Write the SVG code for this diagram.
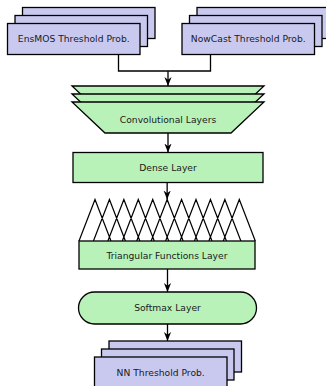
<svg xmlns="http://www.w3.org/2000/svg" width="326" height="386" viewBox="0 0 326 386">
<defs>
<style>
.p{fill:#c9c9f0;stroke:#000;stroke-width:1.3}
.g{fill:#b9f2b9;stroke:#000;stroke-width:1.3}
.t{font-family:"DejaVu Sans","Liberation Sans",sans-serif;font-size:9.2px;fill:#1a1a1a;text-anchor:middle}
.c{fill:none;stroke:#000;stroke-width:1.3}
.tri{fill:none;stroke:#000;stroke-width:1.2;stroke-linejoin:miter}
</style>
<marker id="ah" viewBox="0 0 10 10" refX="10" refY="5" markerWidth="9" markerHeight="9" orient="auto" markerUnits="userSpaceOnUse">
<path d="M0,1 L10,5 L0,9 L3,5 Z" fill="#000"/>
</marker>
</defs>
<rect width="326" height="386" fill="#fff"/>
<g id="ensmos">
<rect class="p" x="22.5" y="7.5" width="132.5" height="31"/>
<rect class="p" x="15" y="15.5" width="132.5" height="31"/>
<rect class="p" x="7.5" y="23.5" width="132.5" height="31"/>
<text class="t" x="73.8" y="42">EnsMOS Threshold Prob.</text>
</g>
<g id="nowcast">
<rect class="p" x="197" y="7.5" width="132.5" height="31"/>
<rect class="p" x="189.5" y="15.5" width="132.5" height="31"/>
<rect class="p" x="182" y="23.5" width="132.5" height="31"/>
<text class="t" x="248.3" y="42">NowCast Threshold Prob.</text>
</g>
<g id="conv">
<path class="g" d="M72,86 L264,86 L231,117 L105,117 Z"/>
<path class="g" d="M72,94 L264,94 L231,125 L105,125 Z"/>
<path class="g" d="M72,102 L264,102 L231,133 L105,133 Z"/>
<text class="t" x="168" y="122.5">Convolutional Layers</text>
</g>
<g id="dense">
<rect class="g" x="73" y="152.5" width="190" height="30"/>
<text class="t" x="168" y="170.5">Dense Layer</text>
</g>
<g id="triangular">
<path class="tri" d="M79,241 L95,199.5 L111,241 M93.43,241 L109.43,199.5 L125.43,241 M107.86,241 L123.86,199.5 L139.86,241 M122.29,241 L138.29,199.5 L154.29,241 M136.72,241 L152.72,199.5 L168.72,241 M151.15,241 L167.15,199.5 L183.15,241 M165.58,241 L181.58,199.5 L197.58,241 M180.01,241 L196.01,199.5 L212.01,241 M194.44,241 L210.44,199.5 L226.44,241 M208.87,241 L224.87,199.5 L240.87,241 M223.3,241 L239.3,199.5 L255.3,241"/>
<rect class="g" x="79" y="241" width="176" height="28"/>
<text class="t" x="167" y="258.5">Triangular Functions Layer</text>
</g>
<g id="softmax">
<rect class="g" x="78.5" y="292" width="178" height="32" rx="16" ry="16"/>
<text class="t" x="167.5" y="311">Softmax Layer</text>
</g>
<g id="nn">
<rect class="p" x="109" y="341" width="132.5" height="31"/>
<rect class="p" x="101.5" y="349" width="132.5" height="31"/>
<rect class="p" x="94.5" y="357" width="132.5" height="31"/>
<text class="t" x="160.7" y="376">NN Threshold Prob.</text>
</g>
<g id="connectors">
<path class="c" d="M118.5,54.5 V71 H210.5 V54.5"/>
<path class="c" d="M168,71 V86" marker-end="url(#ah)"/>
<path class="c" d="M168,133 V152.5" marker-end="url(#ah)"/>
<path class="c" d="M167.15,182.5 V199.5" marker-end="url(#ah)"/>
<path class="c" d="M167.5,269 V292" marker-end="url(#ah)"/>
<path class="c" d="M167.5,324 V341" marker-end="url(#ah)"/>
</g>
</svg>
